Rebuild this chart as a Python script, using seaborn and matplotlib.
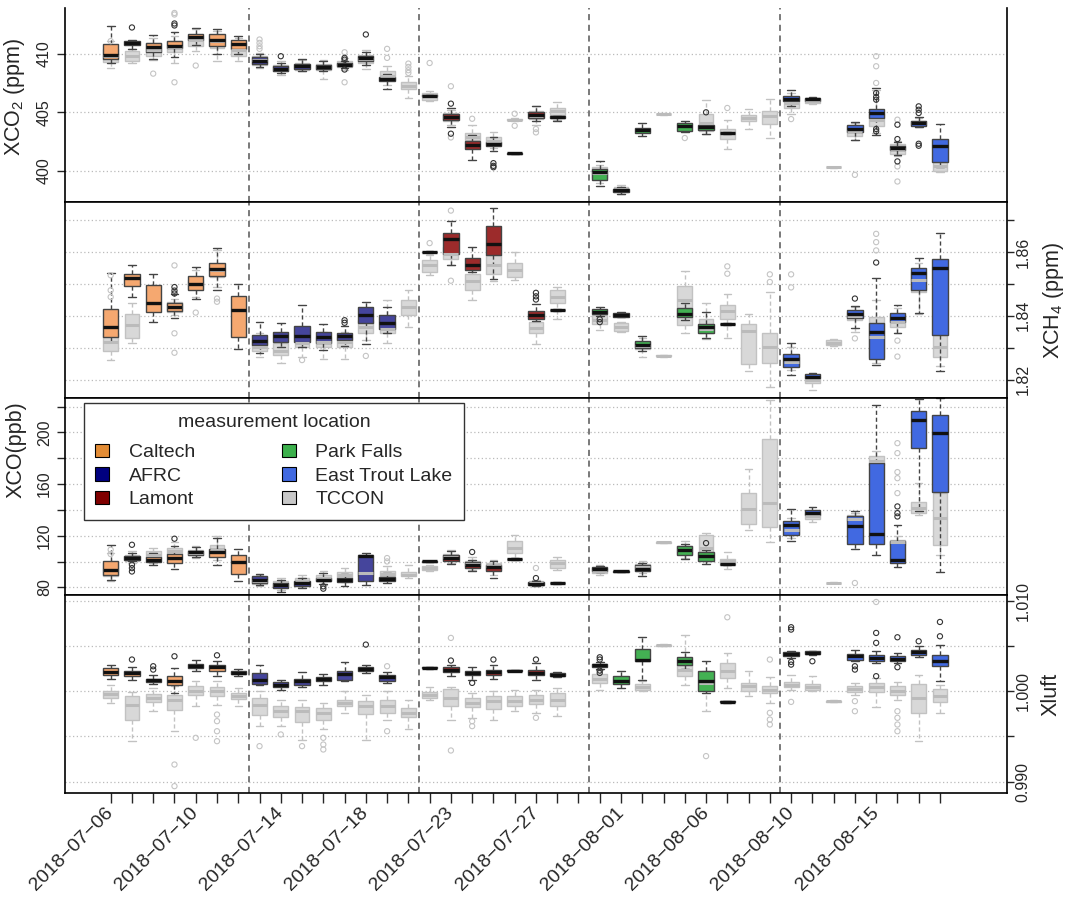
import numpy as np
import pandas as pd
import matplotlib
matplotlib.use('Agg')
import matplotlib.pyplot as plt
import seaborn as sns
from matplotlib.patches import Patch
from matplotlib.ticker import MultipleLocator, FormatStrFormatter
import warnings
warnings.filterwarnings('ignore')

sns.set_style('white')
plt.rcParams['font.family'] = ['Liberation Sans', 'DejaVu Sans']
plt.rcParams['mathtext.default'] = 'regular'

# ---------------------------------------------------------------- data
days = ['2018-07-06', '2018-07-07', '2018-07-08', '2018-07-09', '2018-07-10',
        '2018-07-11', '2018-07-12', '2018-07-13', '2018-07-14', '2018-07-15',
        '2018-07-16', '2018-07-17', '2018-07-18', '2018-07-19', '2018-07-20',
        '2018-07-22', '2018-07-23', '2018-07-24', '2018-07-25', '2018-07-26',
        '2018-07-27', '2018-07-28', '2018-07-29', '2018-07-31', '2018-08-01',
        '2018-08-02', '2018-08-03', '2018-08-05', '2018-08-06', '2018-08-07',
        '2018-08-08', '2018-08-09', '2018-08-10', '2018-08-11', '2018-08-12',
        '2018-08-14', '2018-08-15', '2018-08-16', '2018-08-17', '2018-08-18']

# measurement location for every day (None = only TCCON)
day_site = (['Caltech'] * 7 + ['AFRC'] * 7 + [None] + ['Lamont'] * 7 + [None]
            + ['Park Falls'] * 7 + [None, None] + ['East Trout Lake'] * 8)

sites = ['Caltech', 'AFRC', 'Lamont', 'Park Falls', 'East Trout Lake', 'TCCON']

# box statistics: (day index, whisker low, q1, median, q3, whisker high)
co2_site = [
    (0, 409.23, 409.6, 409.94, 410.86, 412.37), (1, 410.43, 410.74, 410.91, 411.09, 411.23),
    (2, 409.6, 410.14, 410.57, 410.94, 411.6), (3, 409.74, 410.51, 410.71, 411.14, 411.86),
    (4, 410.74, 411.23, 411.46, 411.66, 412.23), (5, 410.03, 410.71, 411.23, 411.66, 412.17),
    (6, 410.03, 410.43, 410.86, 411.17, 411.54), (7, 408.88, 409.17, 409.37, 409.74, 410.03),
    (8, 408.37, 408.57, 408.71, 408.94, 409.23), (9, 408.51, 408.74, 408.94, 409.17, 409.57),
    (10, 408.51, 408.71, 408.88, 409.08, 409.37), (11, 408.8, 408.94, 409.06, 409.2, 409.37),
    (12, 409.08, 409.43, 409.66, 409.86, 410.14), (13, 407.03, 407.66, 407.86, 408.0, 408.28),
    (15, 406.38, 406.41, 406.43, 406.46, 406.49), (16, 403.74, 404.37, 404.62, 404.85, 405.37),
    (17, 400.94, 401.85, 402.23, 402.51, 403.08), (18, 401.65, 402.08, 402.28, 402.45, 402.85),
    (19, 401.44, 401.47, 401.5, 401.53, 401.56), (20, 404.28, 404.51, 404.77, 405.0, 405.51),
    (21, 404.25, 404.48, 404.57, 404.68, 404.71), (23, 398.71, 399.17, 399.88, 400.14, 400.8),
    (24, 398.02, 398.17, 398.34, 398.48, 398.65), (25, 402.94, 403.22, 403.45, 403.65, 404.08),
    (27, 403.34, 403.43, 403.8, 404.08, 404.22), (28, 403.17, 403.45, 403.74, 403.94, 404.08),
    (29, 403.15, 403.19, 403.22, 403.25, 403.29), (32, 405.57, 405.94, 406.17, 406.43, 406.94),
    (33, 405.94, 406.0, 406.14, 406.23, 406.28), (35, 402.65, 403.28, 403.57, 403.94, 404.14),
    (36, 403.08, 404.51, 404.94, 405.28, 407.08), (37, 401.37, 401.74, 401.94, 402.14, 402.43),
    (38, 403.74, 403.85, 404.08, 404.28, 404.6), (39, 400.31, 400.71, 402.08, 402.71, 404.02),
]
co2_tccon = [
    (0, 408.8, 409.31, 409.8, 410.43, 411.09), (1, 409.23, 409.37, 409.8, 410.23, 410.43),
    (2, 409.51, 409.86, 410.37, 410.94, 411.37), (3, 409.23, 410.14, 410.6, 411.09, 411.52),
    (4, 410.23, 410.71, 411.17, 411.57, 412.09), (5, 409.37, 410.51, 411.09, 411.52, 411.94),
    (6, 409.37, 409.8, 410.37, 410.94, 411.37), (7, 408.8, 409.08, 409.46, 409.8, 410.09),
    (8, 408.17, 408.51, 408.74, 409.08, 409.37), (9, 408.51, 408.65, 408.94, 409.22, 409.51),
    (10, 407.86, 408.6, 408.88, 409.17, 409.46), (11, 408.66, 408.88, 409.08, 409.37, 409.66),
    (12, 408.71, 409.23, 409.57, 409.94, 410.31), (13, 407.37, 407.74, 408.08, 408.51, 409.0),
    (14, 406.22, 407.0, 407.28, 407.57, 408.08), (15, 405.94, 406.08, 406.37, 406.65, 406.86),
    (16, 403.94, 404.22, 404.6, 404.94, 405.22), (17, 402.43, 402.6, 402.88, 403.22, 403.94),
    (18, 401.94, 402.31, 402.57, 402.85, 403.28), (19, 404.22, 404.3, 404.37, 404.45, 404.51),
    (20, 403.94, 404.42, 404.71, 405.08, 405.51), (21, 404.37, 404.77, 405.08, 405.37, 405.85),
    (23, 398.94, 399.37, 399.8, 400.31, 400.5), (24, 398.02, 398.22, 398.42, 398.65, 398.8),
    (26, 404.8, 404.83, 404.85, 404.88, 404.9), (28, 403.14, 403.37, 404.08, 404.88, 406.08),
    (29, 401.85, 402.71, 403.22, 403.57, 404.31), (30, 403.6, 404.22, 404.51, 404.8, 405.28),
    (31, 402.8, 404.0, 404.71, 405.08, 406.17), (32, 404.88, 405.37, 405.8, 406.31, 406.65),
    (33, 405.74, 405.8, 405.97, 406.14, 406.2), (34, 400.25, 400.28, 400.3, 400.32, 400.35),
    (35, 402.65, 402.94, 403.37, 403.8, 404.08), (36, 403.22, 403.8, 404.37, 404.88, 406.94),
    (37, 401.22, 401.45, 401.85, 402.31, 402.51), (38, 403.74, 403.94, 404.08, 404.22, 404.51),
    (39, 399.85, 400.02, 400.37, 400.71, 400.94),
]
co2_site_out = [(1, 412.26), (3, 412.6), (3, 412.43), (8, 409.8), (11, 409.66), (11, 409.51),
                (11, 408.66), (12, 411.66), (16, 405.74), (16, 403.17), (18, 400.65), (18, 400.42),
                (18, 400.3), (28, 405.0), (36, 406.65), (36, 406.31), (36, 406.08), (36, 403.57),
                (36, 403.37), (37, 403.94), (37, 402.71), (37, 400.8), (38, 405.51), (38, 405.22),
                (38, 404.94), (38, 402.31), (38, 402.14)]
co2_tccon_out = [(0, 411.09), (2, 408.31), (3, 413.37), (3, 413.5), (3, 407.57), (4, 409.0),
                 (7, 411.23), (7, 410.94), (7, 410.65), (7, 410.43), (11, 410.14), (11, 407.57),
                 (13, 410.43), (13, 409.66), (14, 409.17), (14, 408.88), (14, 408.6), (14, 408.37),
                 (15, 409.22), (16, 407.23), (16, 402.85), (17, 404.45), (19, 404.88), (19, 403.85),
                 (20, 403.57), (20, 403.28), (27, 402.8), (29, 405.37), (32, 404.42), (35, 399.65),
                 (36, 409.8), (36, 408.94), (36, 407.51), (37, 404.37), (37, 400.37), (37, 399.08)]

ch4_site = [
    (0, 1.8319, 1.8332, 1.8364, 1.842, 1.8535), (1, 1.8459, 1.8494, 1.8517, 1.853, 1.856),
    (2, 1.8381, 1.8413, 1.8439, 1.8496, 1.853), (3, 1.8392, 1.8416, 1.8428, 1.8439, 1.8467),
    (4, 1.8454, 1.848, 1.8499, 1.8524, 1.8553), (5, 1.8482, 1.8524, 1.8546, 1.8566, 1.8612),
    (6, 1.8295, 1.8334, 1.8418, 1.8462, 1.8501), (7, 1.8284, 1.8308, 1.8322, 1.834, 1.8381),
    (8, 1.8303, 1.8319, 1.8336, 1.835, 1.8378), (9, 1.8301, 1.8319, 1.8336, 1.8369, 1.8435),
    (10, 1.8293, 1.8316, 1.8332, 1.8348, 1.8374), (11, 1.8305, 1.8324, 1.8336, 1.8345, 1.8368),
    (12, 1.8311, 1.8376, 1.8402, 1.8426, 1.8444), (13, 1.8347, 1.836, 1.8376, 1.8402, 1.8426),
    (15, 1.8597, 1.8599, 1.86, 1.8601, 1.8603), (16, 1.856, 1.8595, 1.8642, 1.8659, 1.8697),
    (17, 1.8538, 1.8545, 1.8558, 1.8582, 1.8616), (18, 1.8515, 1.859, 1.8626, 1.8683, 1.8739),
    (20, 1.8384, 1.839, 1.8402, 1.8415, 1.8436), (21, 1.8415, 1.8417, 1.8418, 1.8419, 1.8421),
    (23, 1.84, 1.8405, 1.8413, 1.842, 1.8428), (24, 1.8395, 1.8397, 1.8403, 1.841, 1.8413),
    (25, 1.8291, 1.8298, 1.8308, 1.8322, 1.8336), (27, 1.8386, 1.8397, 1.8407, 1.8423, 1.8439),
    (28, 1.8329, 1.8345, 1.8366, 1.8374, 1.8413), (29, 1.8372, 1.8373, 1.8374, 1.8375, 1.8376),
    (32, 1.8215, 1.8239, 1.8264, 1.828, 1.8314), (33, 1.8201, 1.8204, 1.8209, 1.8217, 1.822),
    (35, 1.8361, 1.8392, 1.8405, 1.8418, 1.843), (36, 1.8246, 1.8264, 1.835, 1.8378, 1.852),
    (37, 1.8345, 1.8381, 1.8392, 1.8409, 1.8433), (38, 1.8409, 1.8482, 1.8534, 1.8551, 1.8582),
    (39, 1.8228, 1.834, 1.855, 1.8577, 1.866),
]
ch4_tccon = [
    (0, 1.8261, 1.8288, 1.8319, 1.8345, 1.8407), (1, 1.8314, 1.8329, 1.8371, 1.8407, 1.8439),
    (3, 1.8402, 1.8413, 1.8426, 1.8444, 1.8454), (4, 1.8459, 1.8485, 1.8499, 1.8511, 1.8543),
    (5, 1.849, 1.8522, 1.8543, 1.8558, 1.8605), (7, 1.8272, 1.8288, 1.8303, 1.8324, 1.8345),
    (8, 1.8251, 1.8277, 1.8288, 1.8314, 1.8334), (9, 1.8272, 1.8303, 1.8314, 1.8329, 1.8345),
    (10, 1.8264, 1.8303, 1.8319, 1.8334, 1.835), (11, 1.8264, 1.8303, 1.8319, 1.8334, 1.835),
    (12, 1.8324, 1.8347, 1.8366, 1.8386, 1.8407), (13, 1.8314, 1.8345, 1.836, 1.8381, 1.8451),
    (14, 1.8366, 1.8402, 1.8428, 1.8449, 1.8482), (15, 1.8527, 1.8538, 1.8558, 1.8574, 1.859),
    (16, 1.8558, 1.8579, 1.8595, 1.8616, 1.8636), (17, 1.8449, 1.8482, 1.8508, 1.853, 1.8553),
    (18, 1.851, 1.8532, 1.8558, 1.859, 1.8626), (19, 1.8511, 1.8522, 1.8543, 1.8564, 1.86),
    (20, 1.8311, 1.8345, 1.8363, 1.8379, 1.8402), (21, 1.8389, 1.8439, 1.8459, 1.848, 1.8491),
    (23, 1.8355, 1.8374, 1.8386, 1.8402, 1.8418), (24, 1.835, 1.8353, 1.8366, 1.8378, 1.8381),
    (25, 1.827, 1.8295, 1.8306, 1.8319, 1.8329), (26, 1.8272, 1.8274, 1.8275, 1.8276, 1.8278),
    (27, 1.8347, 1.8371, 1.8449, 1.8493, 1.8541), (28, 1.8326, 1.8345, 1.836, 1.8389, 1.8441),
    (29, 1.8329, 1.8389, 1.8416, 1.8435, 1.8467), (30, 1.8228, 1.8249, 1.8353, 1.8374, 1.8407),
    (31, 1.8178, 1.8251, 1.8303, 1.8345, 1.8475), (32, 1.823, 1.8243, 1.8256, 1.8272, 1.8303),
    (33, 1.8166, 1.8189, 1.8197, 1.8207, 1.8215), (34, 1.8306, 1.8308, 1.8316, 1.8324, 1.8326),
    (35, 1.835, 1.8386, 1.8399, 1.8413, 1.8428), (36, 1.8251, 1.8272, 1.8334, 1.8397, 1.8449),
    (37, 1.8347, 1.8366, 1.8381, 1.8402, 1.8423), (38, 1.8407, 1.8475, 1.8511, 1.8538, 1.8564),
    (39, 1.8241, 1.8272, 1.8303, 1.834, 1.8553),
]
ch4_site_out = [(3, 1.849), (3, 1.8479), (3, 1.847), (11, 1.8386), (11, 1.8378), (20, 1.8472),
                (20, 1.8461), (20, 1.8451), (23, 1.8389), (23, 1.838), (35, 1.8454), (36, 1.8567)]
ch4_tccon_out = [(0, 1.8527), (0, 1.848), (0, 1.8459), (3, 1.8558), (3, 1.8345), (3, 1.8284),
                 (4, 1.841), (5, 1.8454), (5, 1.8444), (9, 1.8261), (12, 1.8274), (15, 1.8628),
                 (16, 1.873), (16, 1.851), (29, 1.8555), (29, 1.8532), (31, 1.853), (31, 1.8506),
                 (32, 1.853), (32, 1.8489), (35, 1.8329), (36, 1.8657), (36, 1.8631), (36, 1.8605),
                 (37, 1.8322), (37, 1.8272)]

co_site = [
    (0, 86.0, 89.3, 93.7, 100.6, 113.0), (1, 100.1, 101.4, 102.7, 104.0, 106.3),
    (2, 97.5, 99.6, 101.4, 103.2, 106.6), (3, 94.4, 98.8, 102.7, 105.8, 111.8),
    (4, 103.2, 105.3, 107.1, 108.4, 111.0), (5, 97.0, 103.2, 107.4, 109.9, 118.2),
    (6, 84.6, 90.3, 99.6, 104.8, 109.9), (7, 81.6, 83.3, 85.9, 88.5, 90.3),
    (8, 76.4, 79.5, 81.6, 83.3, 85.9), (9, 79.5, 81.3, 83.1, 84.6, 87.2),
    (10, 82.6, 84.6, 85.9, 87.2, 91.1), (11, 80.8, 84.1, 85.4, 87.2, 90.3),
    (12, 81.6, 84.6, 104.0, 105.3, 106.6), (13, 83.3, 84.6, 86.5, 88.0, 91.1),
    (15, 99.6, 99.9, 100.1, 100.3, 100.6), (16, 98.0, 100.6, 102.7, 104.8, 107.9),
    (17, 92.4, 95.0, 97.5, 99.4, 101.4), (18, 87.2, 92.9, 95.5, 97.5, 100.6),
    (19, 101.4, 101.7, 101.9, 102.1, 102.4), (20, 80.8, 81.6, 82.8, 84.1, 85.2),
    (21, 82.8, 83.1, 83.3, 83.5, 83.8), (23, 91.6, 92.4, 94.0, 95.5, 96.2),
    (24, 91.9, 92.2, 92.4, 92.6, 92.9), (25, 88.5, 92.4, 94.4, 97.5, 98.8),
    (27, 102.2, 105.3, 109.2, 112.3, 113.5), (28, 98.3, 100.6, 104.0, 107.4, 109.2),
    (29, 97.5, 97.8, 98.0, 98.2, 98.5), (32, 116.1, 120.8, 128.0, 131.1, 140.9),
    (33, 135.0, 135.7, 137.5, 140.1, 141.9), (35, 109.9, 113.5, 127.7, 135.0, 138.8),
    (36, 104.8, 113.5, 121.5, 176.3, 220.9), (37, 95.5, 98.8, 101.4, 116.1, 128.5),
    (38, 138.8, 187.9, 209.3, 217.0, 225.8), (39, 91.9, 153.5, 199.5, 213.7, 226.6),
]
co_tccon = [
    (0, 85.2, 88.5, 93.7, 98.8, 106.6), (1, 98.8, 100.6, 102.7, 105.3, 107.9),
    (2, 98.8, 102.7, 105.3, 108.4, 110.5), (3, 101.4, 105.8, 107.9, 110.5, 115.0),
    (4, 102.7, 104.8, 106.6, 109.2, 111.8), (5, 101.4, 105.3, 109.2, 113.0, 119.5),
    (7, 80.8, 82.6, 85.2, 87.7, 89.8), (8, 78.2, 80.0, 82.1, 84.6, 87.2),
    (9, 80.0, 82.1, 84.6, 87.2, 89.8), (10, 82.1, 85.2, 87.2, 89.8, 92.4),
    (11, 84.1, 87.2, 89.3, 91.9, 95.0), (12, 85.9, 88.5, 91.1, 92.4, 102.7),
    (13, 85.9, 88.5, 90.6, 92.9, 96.2), (14, 87.2, 88.5, 89.8, 91.6, 97.5),
    (15, 92.9, 93.4, 94.7, 96.2, 97.0), (16, 98.8, 101.4, 103.2, 105.8, 109.2),
    (17, 93.7, 96.2, 98.3, 100.6, 103.2), (18, 89.8, 93.7, 96.2, 98.8, 101.4),
    (19, 102.7, 106.6, 110.5, 115.6, 120.2), (20, 81.3, 82.1, 83.3, 84.6, 85.9),
    (21, 93.7, 95.0, 98.8, 101.4, 103.2), (23, 89.8, 91.1, 92.9, 95.0, 97.0),
    (25, 91.1, 92.9, 95.5, 98.1, 100.1), (26, 114.3, 114.6, 114.8, 115.0, 115.3),
    (27, 102.7, 105.8, 109.2, 111.8, 115.6), (28, 100.1, 105.3, 110.5, 120.8, 122.0),
    (29, 94.4, 97.5, 100.1, 102.2, 107.4), (30, 124.6, 129.0, 140.6, 153.0, 171.9),
    (31, 115.1, 126.5, 145.3, 194.8, 225.0), (32, 118.2, 121.3, 124.6, 128.5, 133.7),
    (33, 130.6, 133.2, 135.0, 137.5, 138.8), (34, 83.1, 83.3, 83.4, 83.6, 83.8),
    (35, 128.5, 131.1, 133.2, 135.7, 137.5), (36, 171.1, 175.0, 178.1, 181.4, 185.3),
    (37, 110.5, 113.0, 115.1, 116.9, 119.5), (38, 136.3, 137.5, 141.4, 146.1, 160.8),
    (39, 105.3, 113.0, 133.7, 153.0, 162.1),
]
co_site_out = [(1, 97.5), (1, 94.9), (1, 92.3), (1, 113.0), (3, 117.7), (10, 80.8), (10, 79.0),
               (17, 107.4), (20, 87.2), (28, 114.3), (37, 142.7), (37, 137.5), (37, 134.9)]
co_tccon_out = [(0, 109.2), (0, 105.8), (13, 102.7), (13, 100.1), (20, 95.0), (35, 83.4),
                (37, 191.7), (37, 184.0), (37, 169.3), (37, 164.6), (37, 153.0)]

xluft_site = [
    (0, 1.0014, 1.00177, 1.00213, 1.00258, 1.00294), (1, 1.00129, 1.00166, 1.00202, 1.00228, 1.00265),
    (2, 1.00081, 1.00103, 1.00121, 1.00136, 1.00184), (3, 0.99982, 1.00066, 1.0011, 1.00166, 1.00258),
    (4, 1.00221, 1.00258, 1.00283, 1.00305, 1.0035), (5, 1.00166, 1.00228, 1.00265, 1.00287, 1.00331),
    (6, 1.00166, 1.00191, 1.00206, 1.00221, 1.0025), (7, 1.00066, 1.00081, 1.00129, 1.00202, 1.00287),
    (8, 1.00018, 1.00044, 1.00074, 1.00103, 1.00129), (9, 1.00044, 1.00074, 1.0011, 1.0014, 1.00213),
    (10, 1.00066, 1.0011, 1.00136, 1.00155, 1.00191), (11, 1.0011, 1.00129, 1.00191, 1.00228, 1.00324),
    (12, 1.00202, 1.00221, 1.0025, 1.00265, 1.00294), (13, 1.00092, 1.00118, 1.00155, 1.00184, 1.00213),
    (15, 1.00248, 1.00253, 1.00258, 1.00263, 1.00268), (16, 1.00166, 1.00213, 1.00239, 1.00265, 1.00294),
    (17, 1.00129, 1.00177, 1.00202, 1.00228, 1.00265), (18, 1.0014, 1.00184, 1.00213, 1.00239, 1.00294),
    (19, 1.00218, 1.00223, 1.00228, 1.00233, 1.00238), (20, 1.00129, 1.00177, 1.00202, 1.00239, 1.00313),
    (21, 1.00155, 1.00166, 1.00184, 1.00202, 1.00213), (23, 1.0025, 1.00265, 1.00287, 1.00305, 1.00324),
    (24, 1.00037, 1.00081, 1.00118, 1.00166, 1.00228), (25, 1.00129, 1.00331, 1.00342, 1.00471, 1.00596),
    (27, 1.0025, 1.00294, 1.00331, 1.00375, 1.00434), (28, 0.99982, 1.0, 1.00118, 1.00221, 1.00331),
    (29, 0.99872, 0.99877, 0.99882, 0.99887, 0.99892), (32, 1.00368, 1.00386, 1.00412, 1.00434, 1.00449),
    (33, 1.00405, 1.00412, 1.00427, 1.00442, 1.00449), (35, 1.00331, 1.0035, 1.00386, 1.00412, 1.0046),
    (36, 1.00313, 1.00331, 1.00368, 1.00397, 1.00442), (37, 1.00313, 1.00331, 1.00361, 1.00386, 1.00423),
    (38, 1.00375, 1.00405, 1.00434, 1.0046, 1.00497), (39, 1.0011, 1.00276, 1.00339, 1.00405, 1.00515),
]
xluft_tccon = [
    (0, 0.99871, 0.99926, 0.99971, 1.00007, 1.00066), (1, 0.99448, 0.99687, 0.99853, 0.99945, 0.99993),
    (2, 0.99779, 0.99882, 0.99926, 0.99971, 1.00037), (3, 0.99558, 0.99787, 0.99908, 0.99963, 1.00055),
    (4, 0.99834, 0.99956, 1.0, 1.00055, 1.0011), (5, 0.99853, 0.99945, 1.0, 1.00044, 1.0011),
    (6, 0.99834, 0.99919, 0.99952, 0.99982, 1.00037), (7, 0.99614, 0.99742, 0.99853, 0.99926, 1.0),
    (8, 0.99614, 0.99713, 0.99779, 0.99834, 0.99908), (9, 0.99466, 0.99661, 0.99779, 0.99823, 0.99908),
    (10, 0.99577, 0.99687, 0.99761, 0.99809, 0.99871), (11, 0.99761, 0.99834, 0.99871, 0.99908, 1.0),
    (12, 0.99466, 0.9975, 0.99834, 0.9989, 0.99963), (13, 0.99687, 0.99761, 0.99834, 0.99908, 1.0),
    (14, 0.99577, 0.99713, 0.99761, 0.99809, 0.99908), (15, 0.99908, 0.99926, 0.99963, 0.99993, 1.00044),
    (16, 0.99687, 0.99834, 0.99926, 1.00029, 1.00044), (17, 0.99705, 0.99823, 0.99871, 0.99926, 0.99982),
    (18, 0.99687, 0.99798, 0.9989, 0.99945, 1.0), (19, 0.99779, 0.99834, 0.9989, 0.99945, 1.00018),
    (20, 0.99761, 0.9986, 0.99908, 0.99963, 1.00018), (21, 0.99724, 0.99834, 0.99908, 0.99982, 1.00037),
    (23, 1.00018, 1.00092, 1.0014, 1.00191, 1.00239), (25, 1.0, 1.00018, 1.00052, 1.00081, 1.0011),
    (26, 1.00498, 1.00503, 1.00508, 1.00513, 1.00518), (27, 1.00074, 1.00166, 1.00239, 1.00294, 1.00626),
    (28, 0.99779, 1.00037, 1.00092, 1.00147, 1.00221), (29, 1.00037, 1.00147, 1.00221, 1.00313, 1.00423),
    (30, 0.99945, 1.00007, 1.00055, 1.00092, 1.00228), (31, 0.99871, 0.99982, 1.00018, 1.00055, 1.00155),
    (32, 1.00018, 1.00044, 1.00074, 1.00103, 1.00184), (33, 1.0, 1.00018, 1.00052, 1.00081, 1.00166),
    (34, 0.9988, 0.99885, 0.9989, 0.99895, 0.999), (35, 0.99963, 0.99993, 1.00029, 1.00055, 1.00092),
    (36, 0.99823, 0.99993, 1.00044, 1.00092, 1.00147), (37, 0.99908, 0.99956, 1.00007, 1.00055, 1.00103),
    (38, 0.99448, 0.99761, 0.99926, 1.00081, 1.00184), (39, 0.99761, 0.99882, 0.99952, 1.00026, 1.00074),
]
xluft_site_out = [(1, 1.0035), (2, 1.00276), (2, 1.00239), (3, 1.00386), (5, 1.00397), (12, 1.00515),
                  (16, 1.00339), (17, 1.00092), (18, 1.0035), (20, 1.0035), (23, 1.00375), (23, 1.0035),
                  (23, 1.00228), (23, 1.00202), (32, 1.00707), (32, 1.00681), (32, 1.00324),
                  (32, 1.00294), (33, 1.00331), (35, 1.00276), (35, 1.00239), (36, 1.00644),
                  (36, 1.00534), (36, 1.00166), (37, 1.00596), (37, 1.00265), (38, 1.00552),
                  (39, 1.00765), (39, 1.00607)]
xluft_tccon_out = [(3, 0.9919), (3, 0.98951), (4, 0.99485), (5, 0.99742), (5, 0.99669), (5, 0.99558),
                   (5, 0.99448), (7, 0.99393), (8, 0.99522), (9, 0.99393), (10, 0.99485),
                   (10, 0.99411), (10, 0.99356), (13, 0.99558), (13, 1.00276), (16, 1.00589),
                   (16, 0.99345), (17, 0.99669), (17, 0.99614), (20, 0.99706), (28, 0.99283),
                   (29, 1.00817), (31, 1.0035), (31, 0.99761), (31, 0.99687), (31, 0.99632),
                   (32, 0.99882), (35, 0.9989), (35, 0.99779), (36, 1.00986), (37, 0.99779),
                   (37, 0.99706), (37, 0.99632), (37, 0.99558)]

# ---------------------------------------------------------------- style
box_colors = {'Caltech': '#F5A870', 'AFRC': '#45459C', 'Lamont': '#9C2B2B',
              'Park Falls': '#43B153', 'East Trout Lake': '#4169E1'}
legend_colors = {'Caltech': '#E38C35', 'AFRC': '#000080', 'Lamont': '#800000',
                 'Park Falls': '#3CB04C', 'East Trout Lake': '#4169E1', 'TCCON': '#C8C8C8'}
TCCON_FILL = '#D8D8D8'
TCCON_LINE = '#C2C2C2'
SITE_LINE = '#444444'
separators = [6.5, 14.5, 22.5, 31.5]


def box_frame(stats, site=None):
    '''Long table with the five summary values of every box'''
    rows = []
    for day, *vals in stats:
        name = site if site else day_site[day]
        for v in vals:
            rows.append((day, name, v))
    return pd.DataFrame(rows, columns=['day', 'site', 'value'])


def draw_outliers(ax, pts, color):
    x = [p[0] for p in pts]
    y = [p[1] for p in pts]
    sns.scatterplot(x=x, y=y, ax=ax, marker='o', s=14, facecolor='none',
                    edgecolor=color, linewidth=0.8, legend=False, zorder=3)


def draw_panel(ax, site_stats, tccon_stats, site_out, tccon_out):
    sns.boxplot(data=box_frame(tccon_stats, 'TCCON'), x='day', y='value',
                native_scale=True, whis=(0, 100), color=TCCON_FILL,
                linecolor=TCCON_LINE, linewidth=1, width=0.7, saturation=1,
                showfliers=False, ax=ax,
                medianprops=dict(color='#BBBBBB', linewidth=2.2),
                whiskerprops=dict(linestyle=(0, (3, 2))))
    draw_outliers(ax, tccon_out, '#C4C4C4')
    sns.boxplot(data=box_frame(site_stats), x='day', y='value', hue='site',
                palette=box_colors, native_scale=True, dodge=False, legend=False,
                whis=(0, 100), linecolor=SITE_LINE, linewidth=1, width=0.72,
                saturation=1, showfliers=False, ax=ax,
                medianprops=dict(color='#111111', linewidth=2.4),
                whiskerprops=dict(linestyle=(0, (3, 2))))
    draw_outliers(ax, site_out, '#333333')
    for xs in separators:
        ax.axvline(xs, color='#555555', linestyle=(0, (4, 3)), linewidth=1.1, zorder=1)


fig = plt.figure(figsize=(10.72, 8.98), dpi=100)
L, W = 0.0606, 0.8787
ax1 = fig.add_axes([L, 0.77472, W, 0.21604])
ax2 = fig.add_axes([L, 0.55679, W, 0.21793])
ax3 = fig.add_axes([L, 0.33742, W, 0.21938])
ax4 = fig.add_axes([L, 0.11659, W, 0.22082])

panels = [
    (ax1, co2_site, co2_tccon, co2_site_out, co2_tccon_out, (397.3, 413.9), 5, None, '%d',
     'left', 'XCO$_2$ (ppm)', 0.543),
    (ax2, ch4_site, ch4_tccon, ch4_site_out, ch4_tccon_out, (1.8142, 1.8756), 0.02, 0.01, '%.2f',
     'right', 'XCH$_4$ (ppm)', 0.5),
    (ax3, co_site, co_tccon, co_site_out, co_tccon_out, (74.1, 226.7), 40, 20, '%d',
     'left', 'XCO(ppb)', 0.736),
    (ax4, xluft_site, xluft_tccon, xluft_site_out, xluft_tccon_out, (0.98872, 1.01063), 0.01, 0.005,
     '%.3f', 'right', 'Xluft', 0.5),
]

for ax, s_stats, t_stats, s_out, t_out, ylim, major, minor, fmt, side, label, label_y in panels:
    draw_panel(ax, s_stats, t_stats, s_out, t_out)
    ax.set_xlim(-2.15, 42.15)
    ax.set_ylim(*ylim)
    ax.yaxis.set_major_locator(MultipleLocator(major))
    ax.yaxis.set_major_formatter(FormatStrFormatter(fmt))
    if minor:
        ax.yaxis.set_minor_locator(MultipleLocator(minor))
    ax.grid(axis='y', which='both', linestyle=(0, (1, 2)), color='#BBBBBB', linewidth=0.9)
    ax.set_axisbelow(True)
    for sp in ax.spines.values():
        sp.set_color('black')
        sp.set_linewidth(1.2)
    ax.set_xlabel('')
    ax.set_ylabel(label, fontsize=15.5)
    if side == 'right':
        ax.yaxis.tick_right()
        ax.yaxis.set_label_position('right')
        ax.tick_params(axis='y', which='both', right=True, left=False, length=5,
                       width=1, direction='out', labelsize=11.5, labelrotation=90, pad=1)
        ax.yaxis.set_label_coords(1.0361, label_y)
    else:
        ax.tick_params(axis='y', which='both', left=True, right=False, length=5.5,
                       width=1, direction='out', labelsize=11.5, labelrotation=90, pad=4)
        ax.yaxis.set_label_coords(-0.0405, label_y)
    for t in ax.get_yticklabels():
        t.set_va('center')
    ax.tick_params(axis='x', bottom=False, labelbottom=False)

ax1.spines['top'].set_visible(False)

# bottom axis with the dates
ax4.set_xticks(range(len(days)))
ax4.set_xticklabels([d.replace('-', '\u2212') if i % 4 == 0 else '' for i, d in enumerate(days)],
                    rotation=45, ha='right', va='center', rotation_mode='anchor', fontsize=14)
ax4.tick_params(axis='x', bottom=True, labelbottom=True, length=7, width=1,
                direction='out', pad=5)

# legend
handles = [Patch(facecolor=legend_colors[s], edgecolor='black', linewidth=0.8) for s in sites]
leg = ax3.legend(handles, sites, ncol=2, title='measurement location', loc='upper left',
                 bbox_to_anchor=(0.02, 0.976), borderaxespad=0, fontsize=14,
                 title_fontsize=14, frameon=True, fancybox=False, framealpha=1,
                 edgecolor='#333333', handlelength=0.7, handleheight=0.7,
                 handletextpad=1.0, columnspacing=4.5, labelspacing=0.3, borderpad=0.6)
leg.get_frame().set_linewidth(1)
leg._legend_box.sep = 9
leg.set_zorder(10)

fig.savefig('out.png', dpi=100)
